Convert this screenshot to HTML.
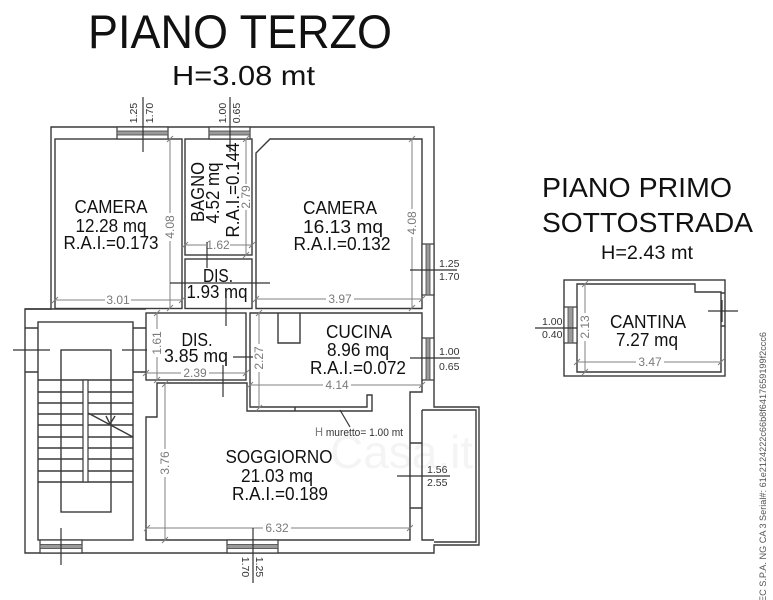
<!DOCTYPE html>
<html><head><meta charset="utf-8"><style>
html,body{margin:0;padding:0;background:#fff;}
svg{display:block;}
text{font-family:"Liberation Sans",Arial,sans-serif;}
.w{fill:none;stroke:#3a3a3a;stroke-width:1.4;}
.d{stroke:#808080;stroke-width:1;fill:none;}
.dt{fill:#7a7a7a;font-size:12px;}
.k{stroke:#333;stroke-width:1.2;fill:none;}
.lt{fill:#333;font-size:10.5px;}
.rt{fill:#111;font-size:18px;}
</style></head><body>
<svg width="773" height="600" viewBox="0 0 773 600" xmlns="http://www.w3.org/2000/svg">
<rect width="773" height="600" fill="#fff"/>
<text x="330" y="468" font-size="46" fill="#000" opacity="0.04">Casa.it</text>

<!-- Titles -->
<text x="88" y="48" font-size="47" fill="#111" textLength="304" lengthAdjust="spacingAndGlyphs">PIANO TERZO</text>
<text x="172" y="85" font-size="28" fill="#111" textLength="143" lengthAdjust="spacingAndGlyphs">H=3.08 mt</text>
<text x="542" y="197" font-size="28" fill="#111" textLength="190" lengthAdjust="spacingAndGlyphs">PIANO PRIMO</text>
<text x="542" y="232" font-size="28" fill="#111" textLength="211" lengthAdjust="spacingAndGlyphs">SOTTOSTRADA</text>
<text x="601" y="259" font-size="19" fill="#111" textLength="92" lengthAdjust="spacingAndGlyphs">H=2.43 mt</text>

<!-- Outer outline -->
<path class="w" d="M51,127 H434 V407 H479 V545 H434 V553 H25 V309 H51 Z"/>
<path class="w" d="M422,410 H476 V542 H434"/>
<path class="w" d="M422,410 V540 H434"/>
<!-- Upper rooms -->
<rect class="w" x="55" y="139" width="127" height="169.5"/>
<rect class="w" x="185" y="139" width="67" height="116"/>
<rect class="w" x="185" y="259" width="67" height="49.5"/>
<path class="w" d="M270,139 H422 V308.5 H256 V153 Z"/>
<line class="w" x1="25" y1="309" x2="146" y2="309"/>
<!-- Stair shaft -->
<rect class="w" x="38" y="322" width="95" height="218"/>
<!-- DIS 2 -->
<rect class="w" x="146" y="313" width="100" height="67"/>
<!-- Kitchen + soggiorno -->
<path class="w" d="M250,407 V313 H422 V392 H410 V540 H146 V417 H157 V383 H247 V411 H372 V395 H367 V407 Z"/>
<line class="w" x1="295" y1="407" x2="295" y2="411"/>
<path class="w" d="M278,313 V343 H300 V313"/>
<!-- wall openings lines -->
<path class="w" d="M25,328 H38 M25,372 H38 M133,328 H146 M133,372 H146 M410,443 H422 M410,508 H422"/>

<!-- Windows -->
<g>
<rect x="117" y="127" width="51" height="12" fill="#fff" stroke="#3a3a3a" stroke-width="1.2"/>
<rect x="117" y="131" width="51" height="4" fill="#9a9a9a" stroke="#444" stroke-width="0.8"/>
<rect x="209" y="127" width="41" height="12" fill="#fff" stroke="#3a3a3a" stroke-width="1.2"/>
<rect x="209" y="131" width="41" height="4" fill="#9a9a9a" stroke="#444" stroke-width="0.8"/>
<rect x="422" y="244" width="12" height="51" fill="#fff" stroke="#3a3a3a" stroke-width="1.2"/>
<rect x="426" y="244" width="4" height="51" fill="#9a9a9a" stroke="#444" stroke-width="0.8"/>
<rect x="422" y="338" width="12" height="42" fill="#fff" stroke="#3a3a3a" stroke-width="1.2"/>
<rect x="426" y="338" width="4" height="42" fill="#9a9a9a" stroke="#444" stroke-width="0.8"/>
<rect x="227" y="540" width="51" height="13" fill="#fff" stroke="#3a3a3a" stroke-width="1.2"/>
<rect x="227" y="544.5" width="51" height="4" fill="#9a9a9a" stroke="#444" stroke-width="0.8"/>
<rect x="40" y="540" width="42" height="13" fill="#fff" stroke="#3a3a3a" stroke-width="1.2"/>
<rect x="40" y="544.5" width="42" height="4" fill="#9a9a9a" stroke="#444" stroke-width="0.8"/>
</g>

<!-- Stairs -->
<rect class="w" x="61" y="350" width="50" height="162"/>
<path class="w" d="M38,380 H133 M38,392 H133 M38,403 H133 M38,414 H133 M38,425 H133 M38,437 H133 M38,448 H133 M38,459 H133 M38,471 H133 M38,482 H133"/>
<rect x="83" y="380" width="5" height="102" fill="#fff" stroke="#3a3a3a" stroke-width="1.2"/>
<path class="w" d="M88,413 L133,437 M106,416 L110,424 L115,416"/>

<!-- Cantina -->
<rect class="w" x="564" y="280" width="161" height="96"/>
<path class="w" d="M577,284 H695 V292 H721 V372 H577 Z"/>
<path class="w" d="M721,293 H725 M721,326 H725"/>
<rect x="564" y="307" width="13" height="36" fill="#fff" stroke="#3a3a3a" stroke-width="1.2"/>
<rect x="568" y="307" width="5" height="36" fill="#9a9a9a" stroke="#444" stroke-width="0.8"/>

<!-- Dimension lines -->
<g class="d">
<path d="M55,300 H105 M131,300 H182 M52,303 L58,297 M179,303 L185,297"/>
<path d="M170,139 V213 M170,241 V308 M167,142 L173,136 M167,311 L173,305"/>
<path d="M246,139 V184 M246,210 V255 M243,142 L249,136 M243,258 L249,252"/>
<path d="M185,245 H206 M230,245 H252 M182,248 L188,242 M249,248 L255,242"/>
<path d="M412,139 V209 M412,237 V308 M409,142 L415,136 M409,311 L415,305"/>
<path d="M256,299 H326 M354,299 H422 M253,302 L259,296 M419,302 L425,296"/>
<path d="M157,313 V329 M157,357 V380 M154,316 L160,310 M154,383 L160,377"/>
<path d="M146,373 H181 M209,373 H246 M143,376 L149,370 M243,376 L249,370"/>
<path d="M259,313 V344 M259,372 V408 M256,316 L262,310 M256,411 L262,405"/>
<path d="M250,385 H323 M351,385 H422 M247,388 L253,382 M419,388 L425,382"/>
<path d="M165,384 V449 M165,477 V540 M162,387 L168,381 M162,543 L168,537"/>
<path d="M147,528 H263 M291,528 H410 M144,531 L150,525 M407,531 L413,525"/>
<path d="M585,284 V313 M585,341 V372 M582,287 L588,281 M582,375 L588,369"/>
<path d="M577,362 H636 M664,362 H721 M574,365 L580,359 M718,365 L724,359"/>
</g>
<g class="dt">
<text x="118" y="304" text-anchor="middle">3.01</text>
<text transform="translate(174,227) rotate(-90)" text-anchor="middle">4.08</text>
<text transform="translate(250,197) rotate(-90)" text-anchor="middle">2.79</text>
<text x="218" y="249" text-anchor="middle">1.62</text>
<text transform="translate(416,223) rotate(-90)" text-anchor="middle">4.08</text>
<text x="340" y="303" text-anchor="middle">3.97</text>
<text transform="translate(161,343) rotate(-90)" text-anchor="middle">1.61</text>
<text x="195" y="377" text-anchor="middle">2.39</text>
<text transform="translate(263,358) rotate(-90)" text-anchor="middle">2.27</text>
<text x="337" y="389" text-anchor="middle">4.14</text>
<text transform="translate(169,463) rotate(-90)" text-anchor="middle">3.76</text>
<text x="277" y="532" text-anchor="middle">6.32</text>
<text transform="translate(589,327) rotate(-90)" text-anchor="middle">2.13</text>
<text x="650" y="366" text-anchor="middle">3.47</text>
</g>

<!-- Window label lines and cross markers -->
<g class="k">
<path d="M143,97 V152 M230,97 V152"/>
<path d="M410,270 H457 M410,358 H460 M397,476 H450 M253,528 V583 M535,328 H577"/>
<path d="M170,283 H270 M207,242 V268 M226,297 V326"/>
<path d="M233,357 H253 M223,365 V397"/>
<path d="M13,350 H50 M122,350 H147 M61,528 V565"/>
<path d="M708,311 H738 M722,300 V322"/>
<path d="M340,410 L350,427"/>
</g>
<g class="lt">
<text transform="translate(137,113) rotate(-90)" text-anchor="middle">1.25</text>
<text transform="translate(153,113) rotate(-90)" text-anchor="middle">1.70</text>
<text transform="translate(226,113) rotate(-90)" text-anchor="middle">1.00</text>
<text transform="translate(240,113) rotate(-90)" text-anchor="middle">0.65</text>
<text x="439" y="267">1.25</text>
<text x="439" y="280">1.70</text>
<text x="439" y="355">1.00</text>
<text x="439" y="370">0.65</text>
<text x="427" y="473">1.56</text>
<text x="427" y="486">2.55</text>
<text transform="translate(242,567) rotate(90)" text-anchor="middle">1.70</text>
<text transform="translate(256,567) rotate(90)" text-anchor="middle">1.25</text>
<text x="542" y="325">1.00</text>
<text x="542" y="338">0.40</text>
</g>
<text x="315" y="436" font-size="11" fill="#333" textLength="88" lengthAdjust="spacingAndGlyphs"><tspan fill="#777" font-size="12">H</tspan> muretto= 1.00 mt</text>

<!-- Room labels -->
<g class="rt" text-anchor="middle">
<text x="111" y="213" textLength="73" lengthAdjust="spacingAndGlyphs">CAMERA</text>
<text x="111" y="232" textLength="71" lengthAdjust="spacingAndGlyphs">12.28 mq</text>
<text x="111" y="249" textLength="95" lengthAdjust="spacingAndGlyphs">R.A.I.=0.173</text>

<text transform="translate(204,192) rotate(-90)" textLength="60" lengthAdjust="spacingAndGlyphs">BAGNO</text>
<text transform="translate(219,193) rotate(-90)" textLength="61" lengthAdjust="spacingAndGlyphs">4.52 mq</text>
<text transform="translate(239,190) rotate(-90)" textLength="95" lengthAdjust="spacingAndGlyphs">R.A.I.=0.144</text>

<text x="340" y="214" textLength="74" lengthAdjust="spacingAndGlyphs">CAMERA</text>
<text x="343" y="233" textLength="80" lengthAdjust="spacingAndGlyphs">16.13 mq</text>
<text x="342" y="250" textLength="97" lengthAdjust="spacingAndGlyphs">R.A.I.=0.132</text>

<text x="218" y="282" textLength="30" lengthAdjust="spacingAndGlyphs">DIS.</text>
<text x="217" y="298" textLength="61" lengthAdjust="spacingAndGlyphs">1.93 mq</text>

<text x="197" y="346" textLength="31" lengthAdjust="spacingAndGlyphs">DIS.</text>
<text x="196" y="362" textLength="64" lengthAdjust="spacingAndGlyphs">3.85 mq</text>

<text x="359" y="338" textLength="66" lengthAdjust="spacingAndGlyphs">CUCINA</text>
<text x="358" y="356" textLength="62" lengthAdjust="spacingAndGlyphs">8.96 mq</text>
<text x="358" y="374" textLength="96" lengthAdjust="spacingAndGlyphs">R.A.I.=0.072</text>

<text x="279" y="463" textLength="107" lengthAdjust="spacingAndGlyphs">SOGGIORNO</text>
<text x="277" y="482" textLength="72" lengthAdjust="spacingAndGlyphs">21.03 mq</text>
<text x="280" y="500" textLength="96" lengthAdjust="spacingAndGlyphs">R.A.I.=0.189</text>

<text x="648" y="328" textLength="76" lengthAdjust="spacingAndGlyphs">CANTINA</text>
<text x="647" y="346" textLength="62" lengthAdjust="spacingAndGlyphs">7.27 mq</text>
</g>

<!-- Side serial -->
<text transform="translate(766,602) rotate(-90)" font-size="9.5" fill="#555" textLength="270" lengthAdjust="spacingAndGlyphs">EC S.P.A. NG CA 3 Serial#: 61e2124222c66b8f6417659199f2ccc6</text>
</svg>
</body></html>
